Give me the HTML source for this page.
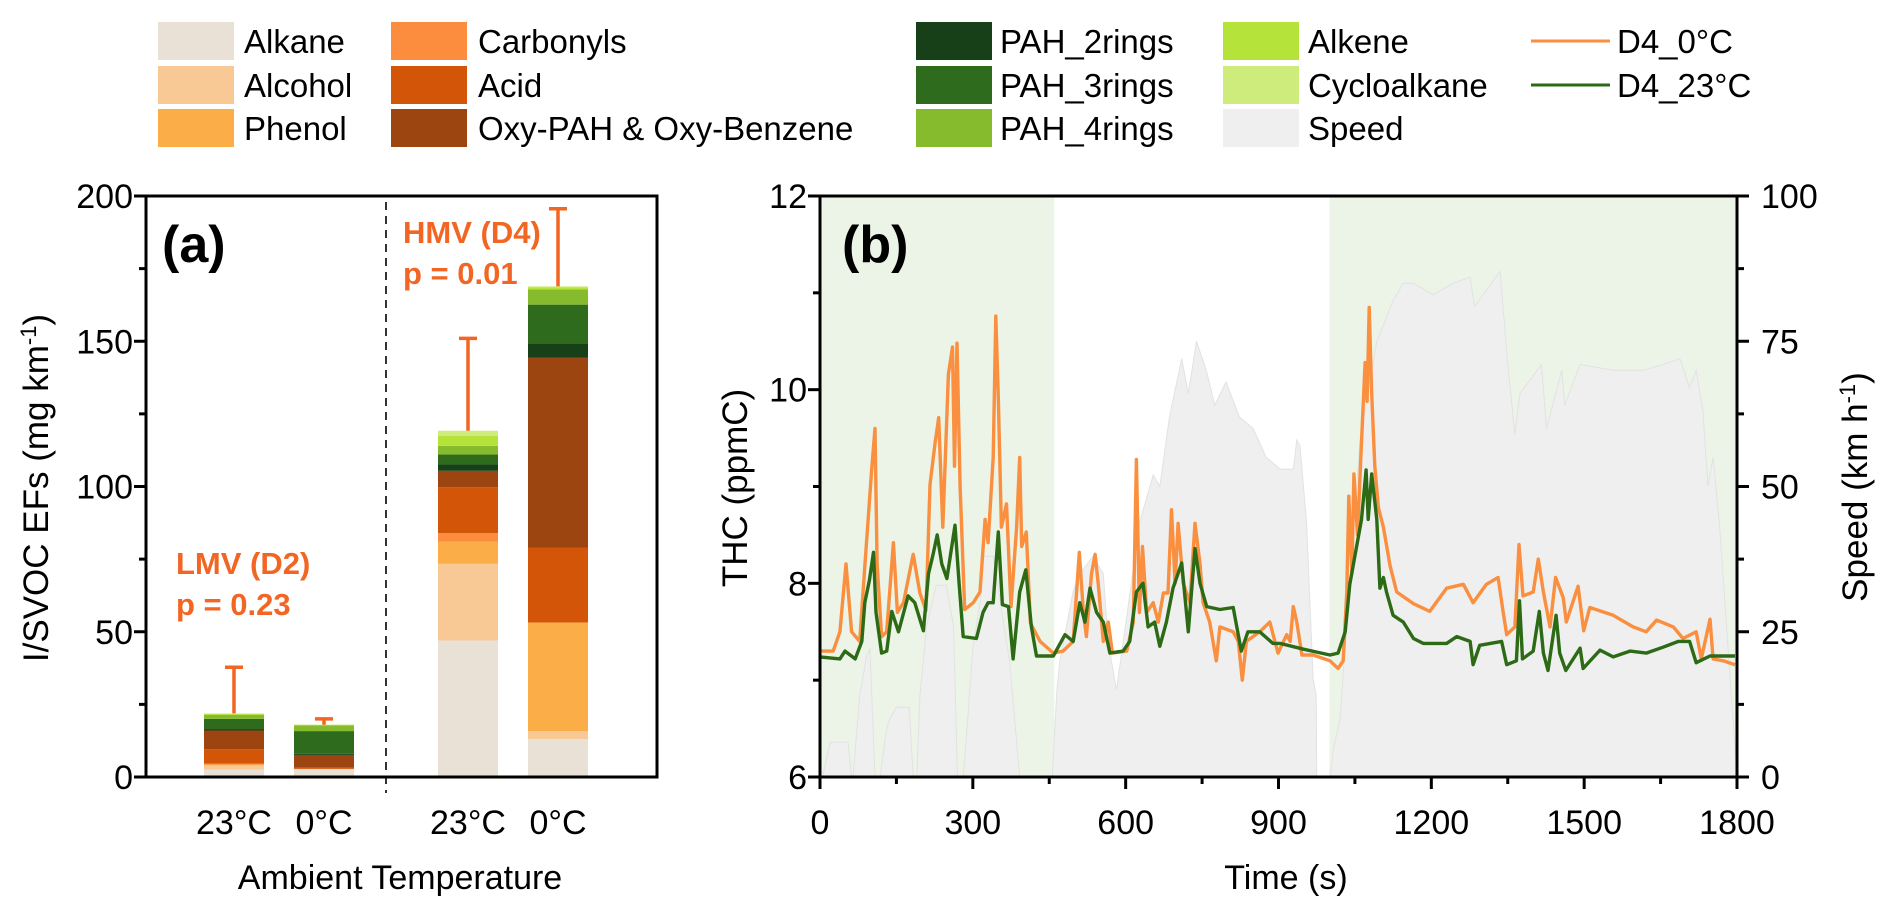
<!DOCTYPE html>
<html><head><meta charset="utf-8"><style>
html,body{margin:0;padding:0;background:#fff;}
svg{display:block;font-family:"Liberation Sans",Arial,sans-serif;}
</style></head><body>
<svg id="fig" width="1892" height="911" viewBox="0 0 1892 911" xmlns="http://www.w3.org/2000/svg">
<g id="legend"></g>
<g id="pa"></g>
<g id="pb"></g>
</svg>
<script>
// ---------- Panel (a) data ----------
const components = ["Alkane","Alcohol","Phenol","Carbonyls","Acid","Oxy-PAH & Oxy-Benzene","PAH_2rings","PAH_3rings","PAH_4rings","Alkene","Cycloalkane"];
const compColors = ["#e9e1d6","#f8c995","#fbad48","#fc8d3f","#d25508","#9c4510","#173f18","#2e6b1c","#87bb2e","#b5e33a","#cdec7c"];
const barCats = ["23°C","0°C","23°C","0°C"];
const lmv23 = [2.5,1.5,0.3,0.3,5.0,6.4,0.5,3.5,1.4,0.3,0.2];
const lmv0  = [2.5,0.3,0.0,0.0,0.5,4.3,0.4,7.8,2.0,0.2,0.0];
const hmv23 = [47,26.4,7.6,3.0,15.8,5.6,2.2,3.4,3.0,3.4,1.8];
const hmv0  = [13,2.8,37.4,0.0,25.8,65.4,4.8,13.4,5.2,0.8,0.3];
const errTops = [37.8,20.0,151,195.6];
const yTicksA = [0,50,100,150,200];

// ---------- Panel (b) data ----------
const tOrange = [0,26,39,51,62,78,87,101,108,112,121,131,144,152,164,183,196,208,216,226,233,241,252,260,264,269,275,284,301,314,324,330,340,345,350,356,366,375,386,392,396,405,413,432,458,477,497,509,517,523,533,540,546,556,566,574,602,615,621,627,633,641,654,664,674,683,690,697,703,713,726,736,746,752,765,778,785,811,821,829,837,863,883,899,916,923,929,936,946,968,1001,1017,1027,1034,1038,1044,1048,1055,1062,1070,1074,1078,1083,1089,1096,1106,1119,1132,1165,1197,1230,1263,1282,1308,1331,1341,1348,1364,1372,1380,1400,1410,1420,1433,1444,1459,1465,1488,1499,1511,1557,1596,1622,1642,1675,1694,1720,1730,1747,1753,1773,1796];
const thcOrange = [7.3,7.3,7.5,8.2,7.5,7.4,8.1,9.15,9.6,8.2,7.45,7.5,8.42,7.7,7.8,8.3,7.9,7.72,9.02,9.45,9.71,8.58,10.16,10.44,9.21,10.48,9.0,7.73,7.8,7.91,8.66,8.42,9.3,10.76,9.92,8.58,8.82,7.76,8.58,9.3,8.38,8.53,7.59,7.4,7.28,7.3,7.4,8.32,7.7,7.45,8.1,8.3,8.0,7.4,7.6,7.28,7.3,7.6,9.28,7.7,8.38,7.7,7.8,7.6,7.9,7.9,8.76,8.0,8.62,8.0,7.8,8.62,8.2,7.8,7.6,7.2,7.55,7.5,7.4,7.0,7.4,7.5,7.6,7.28,7.47,7.4,7.76,7.6,7.26,7.26,7.2,7.12,7.2,7.91,8.9,8.1,9.13,8.5,9.34,10.28,9.88,10.85,9.96,9.21,8.78,8.58,8.18,7.91,7.79,7.71,7.95,7.99,7.8,7.99,8.06,7.7,7.47,7.55,8.4,7.87,7.91,8.25,7.91,7.55,8.06,7.85,7.6,7.97,7.51,7.75,7.67,7.55,7.5,7.62,7.55,7.43,7.5,7.22,7.63,7.22,7.2,7.16];
const tGreen = [0,39,49,69,82,88,97,105,110,121,131,141,154,173,186,203,213,222,230,239,249,265,273,281,307,320,330,340,350,358,370,379,392,404,415,425,458,481,497,510,520,530,543,556,569,595,608,621,634,644,657,667,680,693,710,723,736,746,759,785,811,827,840,863,889,903,949,1001,1017,1031,1040,1052,1063,1072,1076,1083,1093,1099,1106,1112,1125,1145,1165,1184,1230,1250,1276,1282,1295,1338,1348,1367,1373,1379,1400,1412,1420,1429,1445,1452,1464,1492,1498,1531,1557,1590,1622,1655,1685,1707,1720,1747,1773,1796];
const thcGreen = [7.24,7.22,7.3,7.22,7.4,7.8,8.03,8.32,7.7,7.28,7.3,7.71,7.5,7.87,7.8,7.51,8.1,8.3,8.5,8.2,8.05,8.6,8.0,7.45,7.43,7.7,7.8,7.8,8.53,7.78,7.76,7.22,7.91,8.14,7.55,7.25,7.25,7.47,7.4,7.8,7.6,7.95,7.7,7.6,7.28,7.3,7.4,7.91,8.0,7.55,7.6,7.35,7.6,7.95,8.21,7.5,8.36,8.0,7.76,7.73,7.75,7.3,7.5,7.5,7.38,7.38,7.32,7.26,7.28,7.5,7.99,8.34,8.66,9.17,8.66,9.13,8.66,7.95,8.06,7.91,7.67,7.6,7.43,7.38,7.38,7.45,7.4,7.16,7.36,7.4,7.16,7.2,7.82,7.22,7.3,7.71,7.28,7.1,7.67,7.28,7.1,7.33,7.12,7.31,7.24,7.3,7.28,7.34,7.4,7.4,7.18,7.25,7.25,7.25];
const tSpeed = [0,5,20,33,55,62,65,78,92,98,108,118,130,137,150,163,175,183,190,196,203,209,228,248,262,270,281,290,300,314,320,340,372,392,411,451,456,465,471,497,510,536,556,566,582,598,628,654,667,686,710,723,739,758,775,797,823,850,876,903,929,936,942,955,968,974,975,1001,1008,1021,1034,1060,1093,1125,1145,1165,1204,1243,1276,1285,1335,1351,1364,1374,1416,1426,1456,1462,1492,1557,1583,1616,1655,1688,1707,1720,1733,1743,1753,1766,1800];
const speedVals = [0,0,6,6,6,0,0,14,21,22,0,0,8,10,12,12,12,0,0,14,20,26,33,33,26,0,0,10,22,30,38,38,20,0,0,0,0,15,20,32,35,38,35,23,15,25,44,52,50,62,72,66,75,70,64,68,62,60,55,53,53,58,57,44,17,14,0,0,5,10,27,58,75,82,85,85,83,85,86,81,87,70,59,66,71,60,70,64,71,70,70,70,71,72,67,70,63,50,55,43,0];
const shadeRanges = [[0,460],[1000,1800]];
const xTicksB = [0,300,600,900,1200,1500,1800];
const yTicksL = [6,8,10,12];
const yTicksR = [0,25,50,75,100];

const NS = "http://www.w3.org/2000/svg";
function mk(parent, tag, attrs, text){
  const el = document.createElementNS(NS, tag);
  for (const k in attrs) el.setAttribute(k, attrs[k]);
  if (text !== undefined) el.textContent = text;
  parent.appendChild(el);
  return el;
}

// ---------- Legend ----------
const lg = document.getElementById('legend');
const legendCols = [
  {sx:158, tx:244, items:[0,1,2]},
  {sx:391, tx:478, items:[3,4,5]},
  {sx:916, tx:1000, items:[6,7,8]},
  {sx:1223, tx:1308, items:[9,10,-1]}
];
const rowY = [41,85,128];
legendCols.forEach(col=>{
  col.items.forEach((ci,r)=>{
    const g = mk(lg,'g',{});
    
    
    const col_ = ci>=0 ? compColors[ci] : '#efefef';
    const sw = mk(g,'rect',{x:col.sx,y:rowY[r]-19,width:76,height:38,fill:col_});
    
    
    const tx = mk(g,'text',{x:col.tx,y:rowY[r]+12,'font-size':33,fill:'#000'}, ci>=0?components[ci]:'Speed');
    
    
  });
});
[["D4_0°C","#f98f3f"],["D4_23°C","#2d6a16"]].forEach((d,r)=>{
  const g = mk(lg,'g',{});
  
  
  mk(g,'line',{x1:1531,x2:1610,y1:rowY[r],y2:rowY[r],stroke:d[1],'stroke-width':3});
  const t = mk(g,'text',{x:1617,y:rowY[r]+12,'font-size':33}, d[0]);
  
  
});

// ---------- Panel (a) ----------
const pa = document.getElementById('pa');
const A = {l:146,r:657,t:196,b:777};
const yA = v => A.b - v/200*(A.b-A.t);
const xA = i => A.l + 88 + i*90 + (i>=2?54:0);
const barW = 60;
const bars = [lmv23,lmv0,hmv23,hmv0];
bars.forEach((vals,i)=>{
  const g = mk(pa,'g',{});
  
  
  let cum = 0;
  vals.forEach((v,k)=>{
    if (v<=0) return;
    const r = mk(g,'rect',{x:xA(i)-barW/2,y:yA(cum+v),width:barW,height:yA(cum)-yA(cum+v),fill:compColors[k]});
    
    
    cum += v;
  });
  const e = mk(g,'path',{d:`M${xA(i)} ${yA(cum)} V${yA(errTops[i])} M${xA(i)-9} ${yA(errTops[i])} H${xA(i)+9}`,stroke:'#f26522','stroke-width':3.5,fill:'none'});
  
  
});
const dv = mk(pa,'line',{x1:386,x2:386,y1:A.t+6,y2:A.b+16,stroke:'#000','stroke-width':1.6,'stroke-dasharray':'8,6'});


const fa = mk(pa,'rect',{x:A.l,y:A.t,width:A.r-A.l,height:A.b-A.t,fill:'none',stroke:'#000','stroke-width':3});


for (let v=0; v<=200; v+=25){
  mk(pa,'line',{x1:A.l-(v%50?7:12),x2:A.l,y1:yA(v),y2:yA(v),stroke:'#000','stroke-width':3});
}
yTicksA.forEach(v=>{
  const t = mk(pa,'text',{x:A.l-13,y:yA(v)+12,'font-size':34,'text-anchor':'end'}, String(v));
  
  
});
barCats.forEach((c,i)=>{
  const t = mk(pa,'text',{x:xA(i),y:834,'font-size':34,'text-anchor':'middle'}, c);
  
  
});
{
  const t = mk(pa,'text',{x:400,y:889,'font-size':34,'text-anchor':'middle'},'Ambient Temperature');
  
  
  const yt = mk(pa,'text',{transform:'translate(48,488) rotate(-90)','font-size':35,'text-anchor':'middle'});
  
  
  yt.innerHTML = 'I/SVOC EFs (mg km<tspan dy="-12" font-size="22">-1</tspan><tspan dy="12">)</tspan>';
  const pl = mk(pa,'text',{x:162,y:262,'font-size':52,'font-weight':'bold'},'(a)');
  
  
  [["LMV (D2)",176,574],["p = 0.23",176,615],["HMV (D4)",403,243],["p = 0.01",403,284]].forEach(a=>{
    const t = mk(pa,'text',{x:a[1],y:a[2],'font-size':31,'font-weight':'bold',fill:'#f26522'},a[0]);
    
    
  });
}

// ---------- Panel (b) ----------
const pb = document.getElementById('pb');
const B = {l:820,r:1737,t:196,b:777};
const xB = t => B.l + t/1800*(B.r-B.l);
const yL = v => B.b - (v-6)/6*(B.b-B.t);
const yR = v => B.b - v/100*(B.b-B.t);
shadeRanges.forEach(r=>{
  const s = mk(pb,'rect',{x:xB(r[0]),y:B.t,width:xB(r[1])-xB(r[0]),height:B.b-B.t,fill:'#ebf4e6'});
  
  
});
{
  let d = `M${xB(tSpeed[0])} ${yR(0)}`;
  tSpeed.forEach((t,i)=>{ d += ` L${xB(t).toFixed(1)} ${yR(speedVals[i]).toFixed(1)}`; });
  d += ` L${xB(tSpeed[tSpeed.length-1])} ${yR(0)} Z`;
  const sp = mk(pb,'path',{d:d,fill:'#efefef',stroke:'#e2e2e2','stroke-width':1});
  
  
}
function line(ts, vs, color, name){
  let d='';
  ts.forEach((t,i)=>{ d += (i?' L':'M')+xB(t).toFixed(1)+' '+yL(vs[i]).toFixed(1); });
  const p = mk(pb,'path',{d:d,fill:'none',stroke:color,'stroke-width':3.4,'stroke-linejoin':'round'});
  
  
}
line(tOrange, thcOrange, '#f98f3f', 'line-d4-0c');
line(tGreen, thcGreen, '#2d6a16', 'line-d4-23c');
const fb = mk(pb,'rect',{x:B.l,y:B.t,width:B.r-B.l,height:B.b-B.t,fill:'none',stroke:'#000','stroke-width':3});


for (let t=0;t<=1800;t+=150){
  mk(pb,'line',{x1:xB(t),x2:xB(t),y1:B.b,y2:B.b+(t%300?7:12),stroke:'#000','stroke-width':3});
}
xTicksB.forEach(t=>{
  const el = mk(pb,'text',{x:xB(t),y:834,'font-size':34,'text-anchor':'middle'},String(t));
  
  
});
for (let v=6; v<=12; v+=1){
  mk(pb,'line',{x1:B.l-(v%2?7:12),x2:B.l,y1:yL(v),y2:yL(v),stroke:'#000','stroke-width':3});
}
yTicksL.forEach(v=>{
  const el = mk(pb,'text',{x:B.l-13,y:yL(v)+12,'font-size':34,'text-anchor':'end'},String(v));
  
  
});
for (let v=0; v<=100; v+=12.5){
  mk(pb,'line',{x1:B.r,x2:B.r+(v%25?7:12),y1:yR(v),y2:yR(v),stroke:'#000','stroke-width':3});
}
yTicksR.forEach(v=>{
  const el = mk(pb,'text',{x:B.r+24,y:yR(v)+12,'font-size':34},String(v));
  
  
});
{
  const t = mk(pb,'text',{x:1286,y:889,'font-size':34,'text-anchor':'middle'},'Time (s)');
  
  
  const yt = mk(pb,'text',{transform:'translate(747,488) rotate(-90)','font-size':35,'text-anchor':'middle'},'THC (ppmC)');
  
  
  const yr = mk(pb,'text',{transform:'translate(1867,487) rotate(-90)','font-size':35,'text-anchor':'middle'});
  
  
  yr.innerHTML = 'Speed (km h<tspan dy="-12" font-size="22">-1</tspan><tspan dy="12">)</tspan>';
  const pl = mk(pb,'text',{x:842,y:262,'font-size':52,'font-weight':'bold'},'(b)');
  
  
}
</script>
</body></html>
